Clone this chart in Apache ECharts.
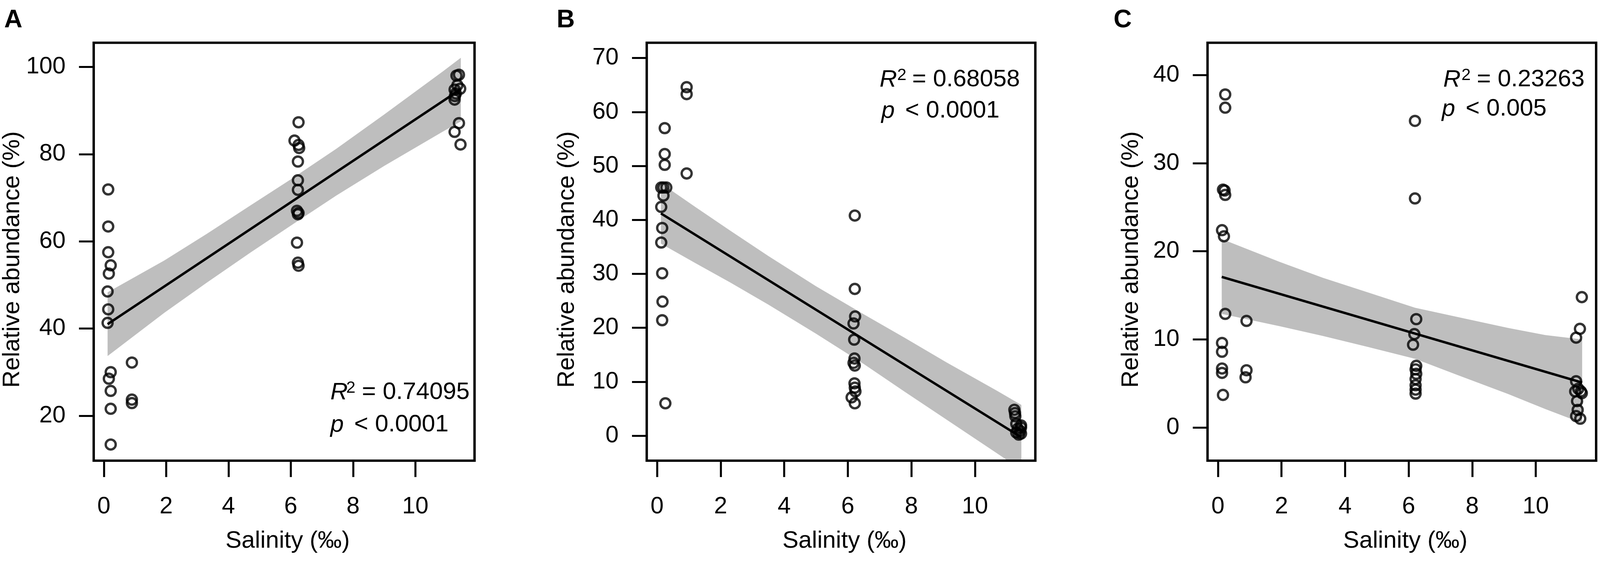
<!DOCTYPE html>
<html>
<head>
<meta charset="utf-8">
<title>Relative abundance vs salinity</title>
<script src="https://cdn.jsdelivr.net/npm/echarts@6.0.0/dist/echarts.min.js"></script>
<style>
  html, body { margin: 0; padding: 0; background: #fff; overflow: hidden; }
</style>
</head>
<body>
<div id="chart"></div>
<script>
// shared x ticks
var salTicks = [0, 2, 4, 6, 8, 10];

// ---- panel A ----
var salA = [0.14, 0.14, 0.14, 0.22, 0.16, 0.12, 0.14, 0.12, 0.22, 0.16, 0.22, 0.22, 0.22,
            0.90, 0.90, 0.90,
            6.12, 6.25, 6.25, 6.27, 6.23, 6.23, 6.23, 6.20, 6.25, 6.23, 6.20, 6.23, 6.25,
            11.32, 11.40, 11.35, 11.44, 11.26, 11.30, 11.27, 11.26, 11.40, 11.26, 11.45];
var abA = [71.9, 63.4, 57.5, 54.5, 52.6, 48.5, 44.4, 41.3, 30.0, 28.5, 25.7, 21.6, 13.4,
           32.2, 23.7, 22.9,
           83.1, 87.3, 82.1, 81.4, 78.3, 74.0, 71.8, 67.0, 66.5, 66.2, 59.7, 55.1, 54.4,
           98.0, 98.2, 95.8, 95.0, 94.8, 93.9, 93.3, 92.5, 87.1, 85.1, 82.2];
var bandXA = [0.12, 1.94, 3.3, 4.7, 6.0, 7.46, 9.0, 10.89, 11.46];
var bandUpA = [48.3, 55.6, 61.7, 68.2, 74.2, 81.2, 89.1, 99.0, 102.1];
var bandLoA = [33.7, 43.6, 50.5, 57.4, 63.6, 70.5, 77.3, 85.2, 87.5];
var fitXA = [0.12, 11.46];
var fitYA = [41.0, 94.9];
var yTicksA = [20, 40, 60, 80, 100];

// ---- panel B ----
var salB = [0.24, 0.24, 0.24, 0.13, 0.20, 0.29, 0.20, 0.13, 0.16, 0.13, 0.16, 0.17, 0.16, 0.26,
            0.93, 0.93, 0.93,
            6.22, 6.22, 6.23, 6.18, 6.20, 6.21, 6.18, 6.22, 6.21, 6.22, 6.24, 6.12, 6.22,
            11.24, 11.26, 11.27, 11.30, 11.45, 11.35, 11.42, 11.30, 11.45, 11.45, 11.38];
var abB = [57.0, 52.2, 50.2, 46.0, 46.0, 46.0, 44.5, 42.4, 38.5, 35.8, 30.1, 24.85, 21.4, 6.0,
           64.6, 63.3, 48.6,
           40.8, 27.2, 22.1, 20.8, 17.8, 14.3, 13.5, 13.0, 9.7, 8.9, 8.2, 7.1, 6.0,
           4.8, 4.2, 3.6, 2.2, 1.9, 1.3, 0.9, 0.6, 0.4, 1.5, 0.2];
var bandXB = [0.12, 1.2, 2.3, 3.5, 5.0, 6.5, 7.8, 9.1, 10.7, 11.46];
var bandUpB = [46.8, 42.4, 38.0, 33.3, 27.7, 22.5, 18.1, 13.6, 8.3, 5.7];
var bandLoB = [35.6, 32.0, 28.4, 24.3, 18.9, 13.3, 8.1, 3.0, -3.3, -6.3];
var fitXB = [0.12, 11.46];
var fitYB = [41.2, -0.3];
var yTicksB = [0, 10, 20, 30, 40, 50, 60, 70];

// ---- panel C ----
var salC = [0.23, 0.23, 0.16, 0.21, 0.23, 0.13, 0.19, 0.23, 0.13, 0.13, 0.13, 0.13, 0.16,
            0.90, 0.90, 0.87,
            6.20, 6.20, 6.24, 6.18, 6.14, 6.24, 6.22, 6.24, 6.22, 6.22, 6.22, 6.22,
            11.45, 11.39, 11.27, 11.27, 11.34, 11.42, 11.45, 11.24, 11.30, 11.32, 11.27, 11.40];
var abC = [37.8, 36.3, 27.0, 26.9, 26.4, 22.4, 21.7, 12.9, 9.6, 8.6, 6.7, 6.2, 3.7,
           12.1, 6.5, 5.7,
           34.8, 26.0, 12.3, 10.6, 9.4, 7.0, 6.6, 6.1, 5.5, 4.8, 4.3, 3.85,
           14.8, 11.2, 10.2, 5.25, 4.4, 4.1, 3.9, 4.1, 3.0, 2.0, 1.3, 1.0];
var bandXC = [0.12, 1.94, 3.3, 4.71, 6.2, 7.47, 9.13, 10.3, 11.46];
var bandUpC = [21.4, 18.8, 17.0, 15.35, 13.6, 12.6, 11.3, 10.5, 10.0];
var bandLoC = [12.9, 11.5, 10.4, 9.15, 7.8, 6.05, 3.8, 2.1, 0.5];
var fitXC = [0.12, 11.46];
var fitYC = [17.1, 5.1];
var yTicksC = [0, 10, 20, 30, 40];

var FONT = '"Liberation Sans", Arial, Helvetica, sans-serif';

// layout is written in a 4562 x 1437 design space and stretched onto the real viewport
var W = window.innerWidth, H = window.innerHeight;
var kx = W / 4562, ky = H / 1437, ks = Math.sqrt(kx * ky);
function X(v) { return v * kx; }   // horizontal positions / lengths
function Y(v) { return v * ky; }   // vertical positions / lengths
function S(v) { return v * ks; }   // font sizes, strokes, symbols

var el = document.getElementById('chart');
el.style.width = W + 'px';
el.style.height = H + 'px';

// layout of each panel (design pixels) + which arrays it uses
var panels = [
  { letter: 'A', letterX: 12, left: 245, yMin: 9.70, yMax: 105.54, yNameGap: 176,
    sal: salA, ab: abA, bx: bandXA, bu: bandUpA, bl: bandLoA, fx: fitXA, fy: fitYA, yt: yTicksA,
    r2: '= 0.74095', p: '< 0.0001', rX: 942, supX: 987, eqX: 1032, pX: 942, ltX: 1010, rBase: 1028, pBase: 1111 },
  { letter: 'B', letterX: 1587, left: 1844, yMin: -4.63, yMax: 72.83, yNameGap: 192,
    sal: salB, ab: abB, bx: bandXB, bu: bandUpB, bl: bandLoB, fx: fitXB, fy: fitYB, yt: yTicksB,
    r2: '= 0.68058', p: '< 0.0001', rX: 2508, supX: 2558, eqX: 2601, pX: 2513, ltX: 2581, rBase: 227, pBase: 307 },
  { letter: 'C', letterX: 3175, left: 3443, yMin: -3.76, yMax: 43.67, yNameGap: 183,
    sal: salC, ab: abC, bx: bandXC, bu: bandUpC, bl: bandLoC, fx: fitXC, fy: fitYC, yt: yTicksC,
    r2: '= 0.23263', p: '< 0.005', rX: 4115, supX: 4167, eqX: 4211, pX: 4111, ltX: 4179, rBase: 227, pBase: 302 }
];

var grids = [], xAxes = [], yAxes = [], series = [], graphics = [];

function txt(x, y, s, size, style) {
  return { type: 'text', x: X(x), y: Y(y), silent: true,
    style: { text: s, font: style + ' ' + S(size) + 'px ' + FONT, fill: '#000',
             align: 'left', verticalAlign: 'middle', textAlign: 'left', textVerticalAlign: 'middle' } };
}

panels.forEach(function (p, i) {
  grids.push({ left: X(p.left), top: Y(109.5), width: X(1108), height: Y(1070.5), show: true,
    borderColor: '#000', borderWidth: S(6.5), backgroundColor: 'transparent', z: 5 });

  xAxes.push({ gridIndex: i, type: 'value', min: -0.326, max: 11.90,
    axisLine: { show: false, onZero: false }, splitLine: { show: false },
    axisTick: { show: true, customValues: salTicks, length: Y(42), lineStyle: { color: '#000', width: S(5.5) } },
    axisLabel: { customValues: salTicks, margin: Y(88), fontSize: S(64), color: '#000', fontFamily: FONT },
    name: 'Salinity (‰)', nameLocation: 'middle', nameGap: Y(175),
    nameTextStyle: { fontSize: S(65), color: '#000', fontFamily: FONT, padding: [0, 0, 0, X(20)] } });

  yAxes.push({ gridIndex: i, type: 'value', min: p.yMin, max: p.yMax,
    axisLine: { show: false, onZero: false }, splitLine: { show: false },
    axisTick: { show: true, customValues: p.yt, length: X(42), lineStyle: { color: '#000', width: S(5.5) } },
    axisLabel: { customValues: p.yt, margin: X(80), fontSize: S(64), color: '#000', fontFamily: FONT },
    name: 'Relative abundance (%)', nameLocation: 'middle', nameRotate: 90, nameGap: X(p.yNameGap),
    nameTextStyle: { fontSize: S(65), color: '#000', fontFamily: FONT, padding: [0, Y(40), 0, 0] } });

  // confidence band as a polygon through the axis scales
  series.push({ type: 'custom', xAxisIndex: i, yAxisIndex: i, z: 1, silent: true, clip: true,
    data: p.bx.map(function (x, j) { return [x, p.bu[j], p.bl[j]]; }),
    encode: { x: 0, y: [1, 2] },
    renderItem: function (params, api) {
      if (params.dataIndex !== 0) return null;
      var pts = [], j;
      for (j = 0; j < p.bx.length; j++) pts.push(api.coord([p.bx[j], p.bu[j]]));
      for (j = p.bx.length - 1; j >= 0; j--) pts.push(api.coord([p.bx[j], p.bl[j]]));
      var cs = params.coordSys;
      return { type: 'polygon', shape: { points: pts }, style: { fill: '#BEBEBE' },
        clipPath: { type: 'rect', shape: { x: cs.x, y: cs.y, width: cs.width, height: cs.height } } };
    } });

  // regression line
  series.push({ type: 'line', xAxisIndex: i, yAxisIndex: i, z: 2, silent: true, symbol: 'none',
    data: p.fx.map(function (x, j) { return [x, p.fy[j]]; }),
    lineStyle: { color: '#000', width: S(6.5) } });

  // observations
  series.push({ type: 'scatter', xAxisIndex: i, yAxisIndex: i, z: 3, symbol: 'circle', symbolSize: S(27),
    data: p.sal.map(function (x, j) { return [x, p.ab[j]]; }),
    itemStyle: { color: 'rgba(0,0,0,0)', borderColor: '#000', borderWidth: S(6.3) } });

  // panel letter and statistics
  graphics.push(txt(p.letterX, 52, p.letter, 68, 'bold'));
  graphics.push(txt(p.rX, p.rBase - 22.5, 'R', 65, 'italic'));
  graphics.push(txt(p.supX, p.rBase - 33.6, '2', 45, 'normal'));
  graphics.push(txt(p.eqX, p.rBase - 22.5, p.r2, 65, 'normal'));
  graphics.push(txt(p.pX, p.pBase - 22.5, 'p', 65, 'italic'));
  graphics.push(txt(p.ltX, p.pBase - 22.5, p.p, 65, 'normal'));
});

var chart = echarts.init(el);
chart.setOption({
  backgroundColor: '#fff',
  animation: false,
  grid: grids,
  xAxis: xAxes,
  yAxis: yAxes,
  series: series,
  graphic: graphics
});
</script>
</body>
</html>
